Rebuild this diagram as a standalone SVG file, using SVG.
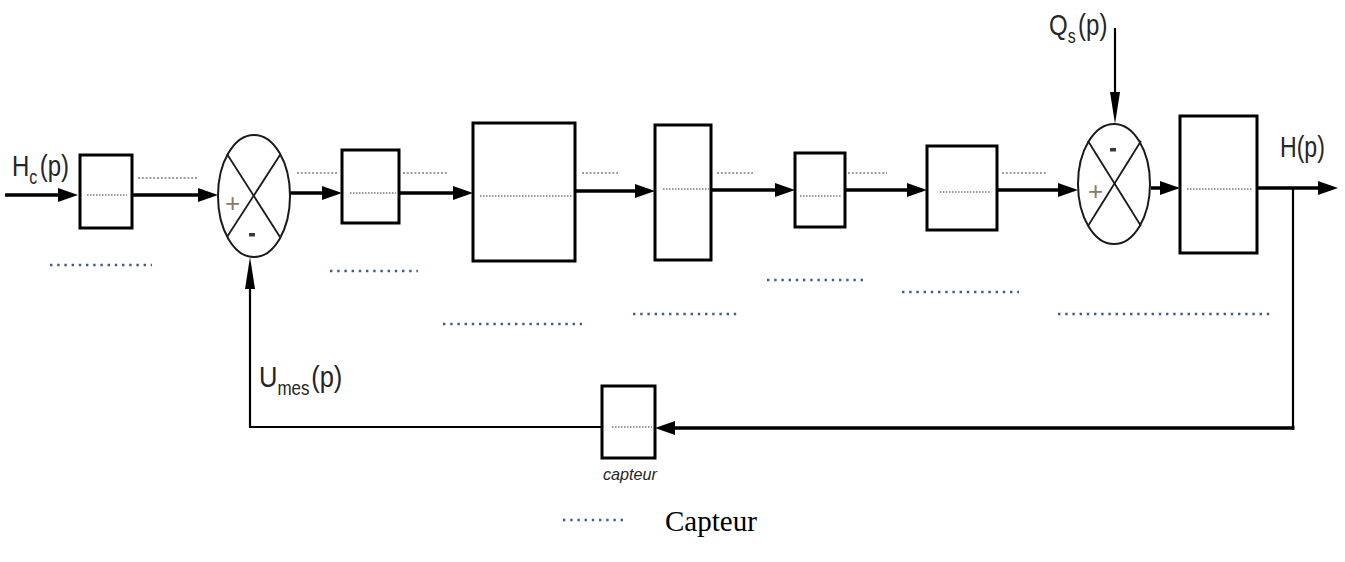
<svg xmlns="http://www.w3.org/2000/svg" width="1345" height="562" viewBox="0 0 1345 562">
<style>
.blk{fill:#fff;stroke:#000;stroke-width:3}
.sum{fill:#fff;stroke:#1a1a1a;stroke-width:2}
.x{stroke:#1a1a1a;stroke-width:1.8;fill:none}
.ln{stroke:#000;stroke-width:3.5;fill:none}
.thin{stroke:#000;stroke-width:2.2;fill:none}
.dIn{stroke:#6b7a90;stroke-width:1.3;stroke-dasharray:1.5 1.5;fill:none}
.dUp{stroke:#7a7f88;stroke-width:1.5;stroke-dasharray:2 1.8;fill:none}
.dLo{stroke:#3e5c8c;stroke-width:2.6;stroke-dasharray:2.4 4.8;fill:none}
.lbl{font-family:"Liberation Sans",Arial,sans-serif;fill:#262626}
.sg{font-family:"Liberation Sans",Arial,sans-serif;fill:#8a7868;font-size:26px}
.mn{fill:#3a3a3a}
</style>
<defs>
<marker id="ah" markerUnits="userSpaceOnUse" viewBox="0 0 20 14" markerWidth="20" markerHeight="14" refX="1" refY="7" orient="auto"><path d="M0,0 L20,7 L0,14 z" fill="#000"/></marker>
<marker id="an" markerUnits="userSpaceOnUse" viewBox="0 0 32 10" markerWidth="32" markerHeight="10" refX="1" refY="5" orient="auto"><path d="M0,0 L32,5 L0,10 z" fill="#000"/></marker>
</defs>

<g id="connectors">
<line class="ln" x1="5" y1="195" x2="59" y2="195" marker-end="url(#ah)"/>
<line class="ln" x1="132" y1="195" x2="199" y2="195" marker-end="url(#ah)"/>
<line class="ln" x1="290" y1="193" x2="323" y2="193" marker-end="url(#ah)"/>
<line class="ln" x1="399" y1="193" x2="454" y2="193" marker-end="url(#ah)"/>
<line class="ln" x1="575" y1="191" x2="636" y2="191" marker-end="url(#ah)"/>
<line class="ln" x1="711" y1="190" x2="776" y2="190" marker-end="url(#ah)"/>
<line class="ln" x1="845" y1="190" x2="908" y2="190" marker-end="url(#ah)"/>
<line class="ln" x1="997" y1="190" x2="1059" y2="190" marker-end="url(#ah)"/>
<line class="ln" x1="1151" y1="188" x2="1161" y2="188" marker-end="url(#ah)"/>
<line class="ln" x1="1257" y1="188" x2="1319" y2="188" marker-end="url(#ah)"/>
<line class="thin" x1="1115" y1="28" x2="1115" y2="93" marker-end="url(#an)"/>
<line class="thin" x1="1293" y1="188" x2="1293" y2="430"/>
<line class="ln" stroke-width="4" x1="1294.5" y1="428" x2="674" y2="428" marker-end="url(#ah)"/>
<line class="thin" x1="602" y1="427" x2="249" y2="427"/>
<line class="thin" x1="250" y1="428" x2="250" y2="288" marker-end="url(#an)"/>
</g>

<g id="n-b1"><rect class="blk" x="80" y="155" width="52" height="73"/><line class="dIn" x1="87" y1="195" x2="127" y2="195"/></g>
<g id="n-s1">
<ellipse class="sum" cx="254" cy="196" rx="36" ry="61"/>
<line class="x" x1="227" y1="154" x2="280" y2="237"/><line class="x" x1="280" y1="155" x2="227" y2="237"/>
<text class="sg" x="225" y="212">+</text><rect class="mn" x="249" y="233" width="6" height="3.5"/>
</g>
<g id="n-b2"><rect class="blk" x="342" y="150" width="57" height="73"/><line class="dIn" x1="350" y1="193" x2="396" y2="193"/></g>
<g id="n-b3"><rect class="blk" x="473" y="123" width="102" height="138"/><line class="dIn" x1="480" y1="196" x2="573" y2="196"/></g>
<g id="n-b4"><rect class="blk" x="655" y="125" width="56" height="135"/><line class="dIn" x1="663" y1="189" x2="710" y2="189"/></g>
<g id="n-b5"><rect class="blk" x="795" y="153" width="50" height="74"/><line class="dIn" x1="800" y1="196" x2="842" y2="196"/></g>
<g id="n-b6"><rect class="blk" x="927" y="146" width="70" height="84"/><line class="dIn" x1="940" y1="192" x2="990" y2="192"/></g>
<g id="n-s2">
<ellipse class="sum" cx="1114" cy="184" rx="36" ry="60"/>
<line class="x" x1="1088" y1="141" x2="1141" y2="226"/><line class="x" x1="1141" y1="141" x2="1088" y2="226"/>
<text class="sg" x="1088" y="200">+</text><rect class="mn" x="1110" y="148" width="6" height="3.5"/>
</g>
<g id="n-b7"><rect class="blk" x="1180" y="116" width="77" height="137"/><line class="dIn" x1="1187" y1="189" x2="1252" y2="189"/></g>
<g id="n-capteur"><rect class="blk" x="602" y="386" width="53" height="72"/><line class="dIn" x1="612" y1="427" x2="652" y2="427"/>
<text class="lbl" x="603" y="480" font-size="17" font-style="italic" textLength="54" lengthAdjust="spacingAndGlyphs">capteur</text></g>

<g id="dotted-labels">
<line class="dUp" x1="138" y1="178" x2="197" y2="178"/>
<line class="dUp" x1="297" y1="173" x2="337" y2="173"/>
<line class="dUp" x1="403" y1="173" x2="448" y2="173"/>
<line class="dUp" x1="582" y1="173" x2="618" y2="173"/>
<line class="dUp" x1="717" y1="173" x2="753" y2="173"/>
<line class="dUp" x1="848" y1="173" x2="887" y2="173"/>
<line class="dUp" x1="1002" y1="173" x2="1047" y2="173"/>
<line class="dLo" x1="50" y1="265" x2="152" y2="265"/>
<line class="dLo" x1="330" y1="271" x2="418" y2="271"/>
<line class="dLo" x1="443" y1="324" x2="582" y2="324"/>
<line class="dLo" x1="633" y1="314" x2="741" y2="314"/>
<line class="dLo" x1="767" y1="280" x2="863" y2="280"/>
<line class="dLo" x1="902" y1="292" x2="1019" y2="292"/>
<line class="dLo" x1="1058" y1="314" x2="1273" y2="314"/>
<line class="dLo" x1="563" y1="520" x2="623" y2="520"/>
</g>

<g id="labels">
<text class="lbl" font-size="30" transform="translate(12,176) scale(0.8,1)">H<tspan font-size="20" dy="8">c</tspan><tspan font-size="30" dy="-8" dx="3">(p)</tspan></text>
<text class="lbl" font-size="30" transform="translate(1049,35) scale(0.8,1)">Q<tspan font-size="20" dy="8">s</tspan><tspan font-size="30" dy="-8" dx="3">(p)</tspan></text>
<text class="lbl" font-size="30" transform="translate(1280,157) scale(0.77,1)">H(p)</text>
<text class="lbl" font-size="30" transform="translate(259,387) scale(0.85,1)">U<tspan font-size="20" dy="8">mes</tspan><tspan font-size="30" dy="-8" dx="2">(p)</tspan></text>
<text x="665" y="531" font-family="'Liberation Serif','Times New Roman',serif" font-size="29" fill="#000">Capteur</text>
</g>
</svg>
